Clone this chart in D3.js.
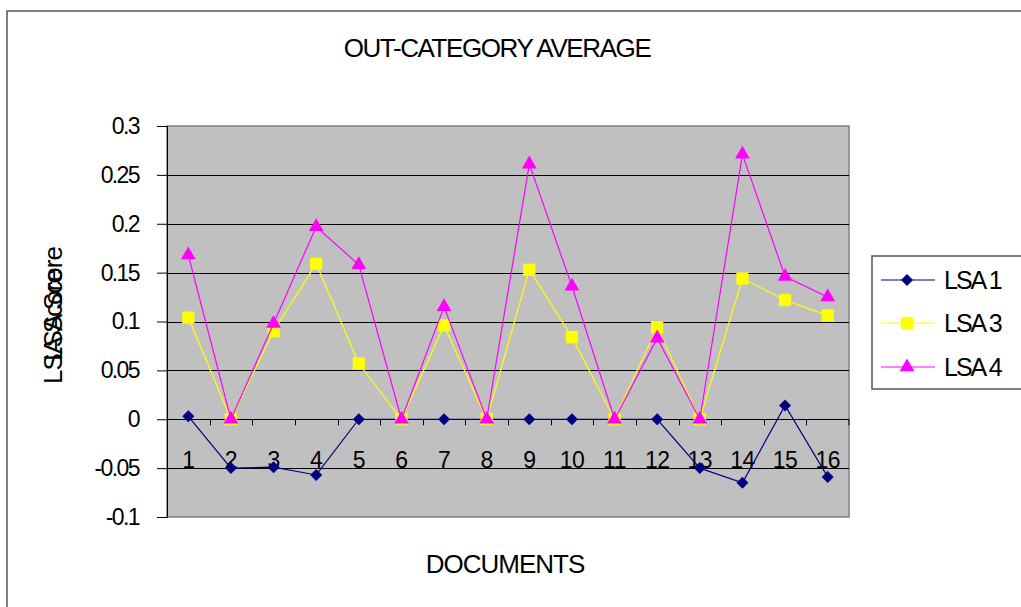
<!DOCTYPE html>
<html>
<head>
<meta charset="utf-8">
<script src="https://d3js.org/d3.v7.min.js"></script>
<style>
  body { margin: 0; background: #fff; }
  svg { display: block; font-family: "Liberation Sans", Arial, sans-serif; }
</style>
</head>
<body>
<svg width="1021" height="607"></svg>
<script>
// values
var documents = ["1","2","3","4","5","6","7","8","9","10","11","12","13","14","15","16"];
var lsa1 = [0.003, -0.05, -0.049, -0.057, 0, 0, 0, 0, 0, 0, 0, 0, -0.05, -0.065, 0.014, -0.059];
var lsa3 = [0.104, 0, 0.09, 0.159, 0.057, 0, 0.096, 0, 0.153, 0.084, 0, 0.094, 0, 0.144, 0.122, 0.106];
var lsa4 = [0.168, 0, 0.098, 0.197, 0.158, 0, 0.115, 0, 0.261, 0.136, 0, 0.083, 0, 0.271, 0.146, 0.125];
var yTicks = [0.3, 0.25, 0.2, 0.15, 0.1, 0.05, 0, -0.05, -0.1];
var seriesNames = ["LSA 1", "LSA 3", "LSA 4"];

var series = [
  { name: seriesNames[0], values: lsa1, color: "#000080", shape: d3.symbolSquare, size: 72, rot: 45 },
  { name: seriesNames[1], values: lsa3, color: "#FFFF00", shape: d3.symbolSquare, size: 150, rot: 0 },
  { name: seriesNames[2], values: lsa4, color: "#FF00FF", shape: d3.symbolTriangle, size: 95, rot: 0 }
];

var svg = d3.select("svg");
var plot = { left: 167, right: 849, top: 126, bottom: 517 };

// outer chart border (runs off the page on right and bottom)
svg.append("rect")
  .attr("x", 7).attr("y", 11)
  .attr("width", 1030).attr("height", 620)
  .attr("fill", "none")
  .attr("stroke", "#555").attr("stroke-width", 1.5);

var x = d3.scaleBand().domain(documents).range([plot.left, plot.right]);
var y = d3.scaleLinear().domain([-0.1, 0.3]).range([plot.bottom, plot.top]);

// plot area
svg.append("rect")
  .attr("x", plot.left).attr("y", plot.top)
  .attr("width", plot.right - plot.left).attr("height", plot.bottom - plot.top)
  .attr("fill", "#C0C0C0")
  .attr("stroke", "#808080").attr("stroke-width", 1.5);

// gridlines
svg.append("g")
  .selectAll("line")
  .data(yTicks.filter(function(d) { return d < 0.3 && d > -0.1; }))
  .enter().append("line")
  .attr("x1", plot.left).attr("x2", plot.right)
  .attr("y1", function(d) { return Math.round(y(d)) + 0.5; })
  .attr("y2", function(d) { return Math.round(y(d)) + 0.5; })
  .attr("stroke", "#000").attr("stroke-width", 1);

// y axis
var yAxis = svg.append("g")
  .attr("transform", "translate(" + plot.left + ",0)")
  .call(d3.axisLeft(y).tickValues(yTicks).tickSize(10).tickPadding(18)
    .tickFormat(function(d) { return String(d); }));
yAxis.select(".domain").attr("stroke", "#000");
yAxis.selectAll(".tick line").attr("stroke", "#000");
yAxis.selectAll(".tick text")
  .attr("font-size", 23).attr("fill", "#000")
  .attr("letter-spacing", "-1.6px")
  .attr("font-family", "Liberation Sans, Arial, sans-serif");

// x axis along zero line, ticks at category boundaries
var xAxisG = svg.append("g");
xAxisG.append("line")
  .attr("x1", plot.left).attr("x2", plot.right)
  .attr("y1", Math.round(y(0)) + 0.5).attr("y2", Math.round(y(0)) + 0.5)
  .attr("stroke", "#000");
xAxisG.selectAll("line.tick")
  .data(documents.slice(1).concat(["end"]))
  .enter().append("line")
  .attr("class", "tick")
  .attr("x1", function(d, i) { return i < documents.length - 1 ? Math.round(x(d)) + 0.5 : plot.right; })
  .attr("x2", function(d, i) { return i < documents.length - 1 ? Math.round(x(d)) + 0.5 : plot.right; })
  .attr("y1", y(0)).attr("y2", y(0) + 6)
  .attr("stroke", "#000");
xAxisG.selectAll("text")
  .data(documents)
  .enter().append("text")
  .attr("x", function(d) { return x(d) + x.bandwidth() / 2; })
  .attr("y", 468)
  .attr("text-anchor", "middle")
  .attr("font-size", 23)
  .attr("letter-spacing", "-0.5px")
  .text(function(d) { return d; });

// series lines and markers
var line = d3.line()
  .x(function(d, i) { return x(documents[i]) + x.bandwidth() / 2; })
  .y(function(d) { return y(d); });

series.forEach(function(s) {
  svg.append("path")
    .datum(s.values)
    .attr("d", line)
    .attr("fill", "none")
    .attr("stroke", s.color)
    .attr("stroke-width", 1.2);
  svg.append("g").selectAll("path")
    .data(s.values)
    .enter().append("path")
    .attr("transform", function(d, i) {
      return "translate(" + (x(documents[i]) + x.bandwidth() / 2) + "," + y(d) + ") rotate(" + s.rot + ")";
    })
    .attr("d", d3.symbol().type(s.shape).size(s.size))
    .attr("fill", s.color);
});

// title
svg.append("text")
  .attr("x", 497).attr("y", 57)
  .attr("text-anchor", "middle")
  .attr("font-size", 26)
  .attr("letter-spacing", "-1.4px")
  .text("OUT-CATEGORY AVERAGE");

// x title
svg.append("text")
  .attr("x", 505).attr("y", 573)
  .attr("text-anchor", "middle")
  .attr("font-size", 26)
  .attr("letter-spacing", "-1px")
  .text("DOCUMENTS");

// y title (two overlapping copies, as in the original)
[304, 327].forEach(function(cy) {
  svg.append("text")
    .attr("transform", "translate(62," + cy + ") rotate(-90)")
    .attr("text-anchor", "middle")
    .attr("font-size", 26)
    .attr("letter-spacing", "-1px")
    .text("LSA Score");
});

// legend
var legend = svg.append("g");
legend.append("rect")
  .attr("x", 872).attr("y", 256)
  .attr("width", 160).attr("height", 133)
  .attr("fill", "#fff")
  .attr("stroke", "#555").attr("stroke-width", 1.5);
var rowY = [280, 323, 367];
series.forEach(function(s, i) {
  legend.append("line")
    .attr("x1", 881).attr("x2", 935)
    .attr("y1", rowY[i]).attr("y2", rowY[i])
    .attr("stroke", s.color).attr("stroke-width", 1.2);
  legend.append("path")
    .attr("transform", "translate(907," + rowY[i] + ") rotate(" + s.rot + ")")
    .attr("d", d3.symbol().type(s.shape).size(s.size))
    .attr("fill", s.color);
  legend.append("text")
    .attr("x", 944).attr("y", rowY[i] + 9)
    .attr("font-size", 25)
    .attr("letter-spacing", "-2px")
    .text(s.name);
});
</script>
</body>
</html>
